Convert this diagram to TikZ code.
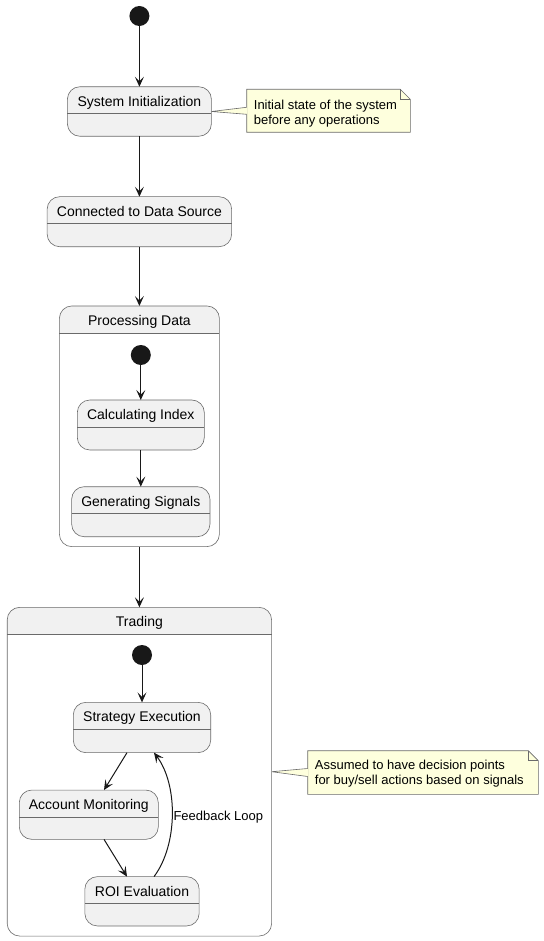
\documentclass[tikz,border=0pt]{standalone}
\usepackage{fontspec}
\setmainfont{Liberation Sans}
\usetikzlibrary{arrows.meta,backgrounds}
\definecolor{statefill}{HTML}{F1F1F1}
\definecolor{ink}{HTML}{181818}
\definecolor{bord}{HTML}{6A6A6A}
\definecolor{notefill}{HTML}{FEFFDD}
\newcommand\sthead[2]{%
  \draw[hline] ([yshift=-27pt]#1.north west) -- ([yshift=-27pt]#1.north east);
  \node[sttitle] (#1-t) at ([yshift=-19.5pt]#1.north) {#2};}
\newcommand\comphead[2]{%
  \begin{scope}
    \clip[rounded corners=12.5pt] (#1.north west) rectangle (#1.south east);
    \fill[statefill] (#1.north west) rectangle ([yshift=-27pt]#1.north east);
  \end{scope}
  \draw[hline, rounded corners=12.5pt] (#1.north west) rectangle (#1.south east);
  \sthead{#1}{#2}}
\newcommand\noteshape[1]{%
  \path[noteline] (#1.north west) -- ([xshift=-10pt]#1.north east) -- ([yshift=-10pt]#1.north east)
    -- (#1.south east) -- (#1.south west) -- cycle;
  \draw[noteline,fill=none] ([xshift=-10pt]#1.north east) -- ([xshift=-10pt,yshift=-10pt]#1.north east)
    -- ([yshift=-10pt]#1.north east);}
\begin{document}
\begin{tikzpicture}[x=1pt,y=-1pt,
  stbox/.style={draw=bord, line width=0.6pt, fill=statefill, rounded corners=12.5pt,
    inner sep=0pt, outer sep=0pt},
  compbox/.style={draw=none, fill=white, inner sep=0pt, outer sep=0pt},
  hline/.style={draw=bord, line width=0.6pt},
  sttitle/.style={anchor=base, inner sep=0pt, font=\fontsize{14}{16}\selectfont},
  initst/.style={circle, fill=ink, draw=none, minimum size=20pt, inner sep=0pt, outer sep=0pt},
  arr/.style={draw=ink, line width=1pt, -{Stealth[length=10pt,width=9pt,inset=4.5pt]}},
  notebox/.style={draw=none, inner sep=0pt, outer sep=0pt},
  notetext/.style={anchor=west, inner sep=0pt, align=left,
    font=\fontsize{13}{15}\selectfont},
  noteline/.style={draw=bord, line width=0.6pt, fill=notefill},
  lbl/.style={font=\fontsize{13}{15}\selectfont, inner sep=0pt}]
\useasboundingbox (0,0) rectangle (543,941);

% top level
\node[initst] (init1) at (139.4,16) {};
\node[stbox, minimum width=144pt, minimum height=49.5pt] (sysinit) at (139.4,111.5) {};
\sthead{sysinit}{System Initialization}
\node[stbox, minimum width=184.5pt, minimum height=50pt] (connected) at (139.4,221.7) {};
\sthead{connected}{Connected to Data Source}

% Processing Data composite
\node[compbox, minimum width=160pt, minimum height=240.7pt] (processing) at (139.4,426.3) {};
\comphead{processing}{Processing Data}
\node[initst] (pinit) at (140.8,355) {};
\node[stbox, minimum width=127pt, minimum height=50pt] (calc) at (140.8,425) {};
\sthead{calc}{Calculating Index}
\node[stbox, minimum width=138.3pt, minimum height=50pt] (gen) at (140.8,511.7) {};
\sthead{gen}{Generating Signals}

% Trading composite
\node[compbox, minimum width=264.4pt, minimum height=328.7pt] (trading) at (139.4,771.7) {};
\comphead{trading}{Trading}
\node[initst] (tinit) at (142,655) {};
\node[stbox, minimum width=137.4pt, minimum height=50.3pt] (strat) at (142,727.5) {};
\sthead{strat}{Strategy Execution}
\node[stbox, minimum width=139pt, minimum height=49.3pt] (acct) at (88.8,814.7) {};
\sthead{acct}{Account Monitoring}
\node[stbox, minimum width=114.3pt, minimum height=49.3pt] (roi) at (142,901.3) {};
\sthead{roi}{ROI Evaluation}

% notes
\node[notebox, minimum width=163.6pt, minimum height=43pt] (note1) at (328.5,110.8) {};
\node[notebox, minimum width=230.6pt, minimum height=43.6pt] (note2) at (423,772.5) {};
\begin{scope}[on background layer]
  \noteshape{note1}
  \noteshape{note2}
  \fill[notefill] (sysinit.east) -- ([xshift=0.5pt,yshift=3.5pt]note1.west) -- ([xshift=0.5pt,yshift=-3.5pt]note1.west) -- cycle;
  \draw[hline] ([yshift=3.5pt]note1.west) -- (sysinit.east) -- ([yshift=-3.5pt]note1.west);
  \fill[notefill] (trading.east) -- ([xshift=0.5pt,yshift=4pt]note2.west) -- ([xshift=0.5pt,yshift=-4pt]note2.west) -- cycle;
  \draw[hline] ([yshift=4pt]note2.west) -- (trading.east) -- ([yshift=-4pt]note2.west);
\end{scope}
\node[notetext] (note1-t) at ([xshift=7pt,yshift=-2.5pt]note1.west)
  {Initial state of the system\\before any operations};
\node[notetext] (note2-t) at ([xshift=7pt,yshift=-1pt]note2.west)
  {Assumed to have decision points\\for buy/sell actions based on signals};

% transitions
\draw[arr] (init1) -- (sysinit);
\draw[arr] (sysinit) -- (connected);
\draw[arr] (connected) -- (processing);
\draw[arr] (pinit) -- (calc);
\draw[arr] (calc) -- (gen);
\draw[arr] (processing) -- (trading);
\draw[arr] (tinit) -- (strat);
\draw[arr] ([xshift=-15pt]strat.south) -- ([xshift=15.2pt]acct.north);
\draw[arr] ([xshift=15.2pt]acct.south) -- ([xshift=-15pt]roi.north);
\draw[arr] ([xshift=12pt]roi.north) .. controls +(24,-32) and +(24,32) .. ([xshift=12pt]strat.south)
  node[lbl, pos=0.5, anchor=west, xshift=1pt, yshift=-2.6pt] {Feedback Loop};
\end{tikzpicture}
\end{document}
